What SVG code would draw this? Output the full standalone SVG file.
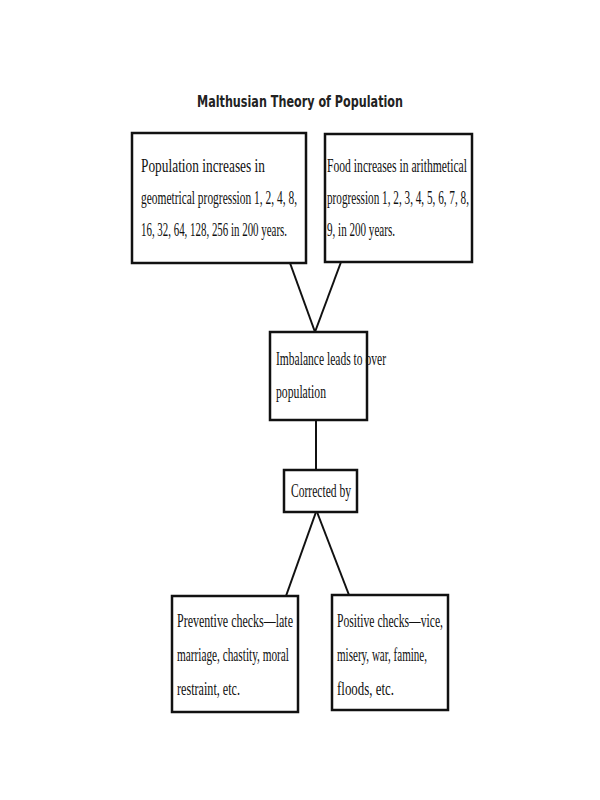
<svg xmlns="http://www.w3.org/2000/svg" width="600" height="800" viewBox="0 0 600 800">
<style>
.b{fill:#fff;stroke:#111;stroke-width:2.5}
.t{font-family:"Liberation Serif",serif;font-size:18px;fill:#111}
.c{stroke:#111;stroke-width:2;fill:none}
</style>
<rect width="600" height="800" fill="#fff"/>
<text x="300" y="107" text-anchor="middle" font-family="DejaVu Sans,sans-serif" font-weight="bold" font-size="15" fill="#222" textLength="206" lengthAdjust="spacingAndGlyphs">Malthusian Theory of Population</text>
<g id="connectors">
<line class="c" x1="290" y1="263" x2="315" y2="332"/>
<line class="c" x1="341" y1="262" x2="315" y2="332"/>
<line class="c" x1="316" y1="420" x2="316" y2="470"/>
<line class="c" x1="316" y1="512" x2="286" y2="596"/>
<line class="c" x1="317" y1="512" x2="349" y2="595"/>
</g>
<g id="pop">
<rect class="b" x="132" y="133" width="174" height="130"/>
<text class="t" x="141" y="172" textLength="124" lengthAdjust="spacingAndGlyphs">Population increases in</text>
<text class="t" x="141" y="204" textLength="156" lengthAdjust="spacingAndGlyphs">geometrical progression 1, 2, 4, 8,</text>
<text class="t" x="141" y="236" textLength="146" lengthAdjust="spacingAndGlyphs">16, 32, 64, 128, 256 in 200 years.</text>
</g>
<g id="food">
<rect class="b" x="325" y="134" width="147" height="128"/>
<text class="t" x="327" y="172" textLength="140" lengthAdjust="spacingAndGlyphs">Food increases in arithmetical</text>
<text class="t" x="327" y="204" textLength="142" lengthAdjust="spacingAndGlyphs">progression 1, 2, 3, 4, 5, 6, 7, 8,</text>
<text class="t" x="327" y="236" textLength="68" lengthAdjust="spacingAndGlyphs">9, in 200 years.</text>
</g>
<g id="imbalance">
<rect class="b" x="270" y="332" width="97" height="88"/>
<text class="t" x="276" y="365" textLength="110" lengthAdjust="spacingAndGlyphs">Imbalance leads to over</text>
<text class="t" x="276" y="398" textLength="50" lengthAdjust="spacingAndGlyphs">population</text>
</g>
<g id="corrected">
<rect class="b" x="284" y="470" width="73" height="42"/>
<text class="t" x="291" y="497" textLength="60" lengthAdjust="spacingAndGlyphs">Corrected by</text>
</g>
<g id="preventive">
<rect class="b" x="172" y="596" width="126" height="116"/>
<text class="t" x="177" y="627" textLength="116" lengthAdjust="spacingAndGlyphs">Preventive checks—late</text>
<text class="t" x="177" y="661" textLength="112" lengthAdjust="spacingAndGlyphs">marriage, chastity, moral</text>
<text class="t" x="177" y="695" textLength="63" lengthAdjust="spacingAndGlyphs">restraint, etc.</text>
</g>
<g id="positive">
<rect class="b" x="332" y="595" width="116" height="115"/>
<text class="t" x="337" y="627" textLength="106" lengthAdjust="spacingAndGlyphs">Positive checks—vice,</text>
<text class="t" x="337" y="661" textLength="90" lengthAdjust="spacingAndGlyphs">misery, war, famine,</text>
<text class="t" x="337" y="695" textLength="57" lengthAdjust="spacingAndGlyphs">floods, etc.</text>
</g>
</svg>
